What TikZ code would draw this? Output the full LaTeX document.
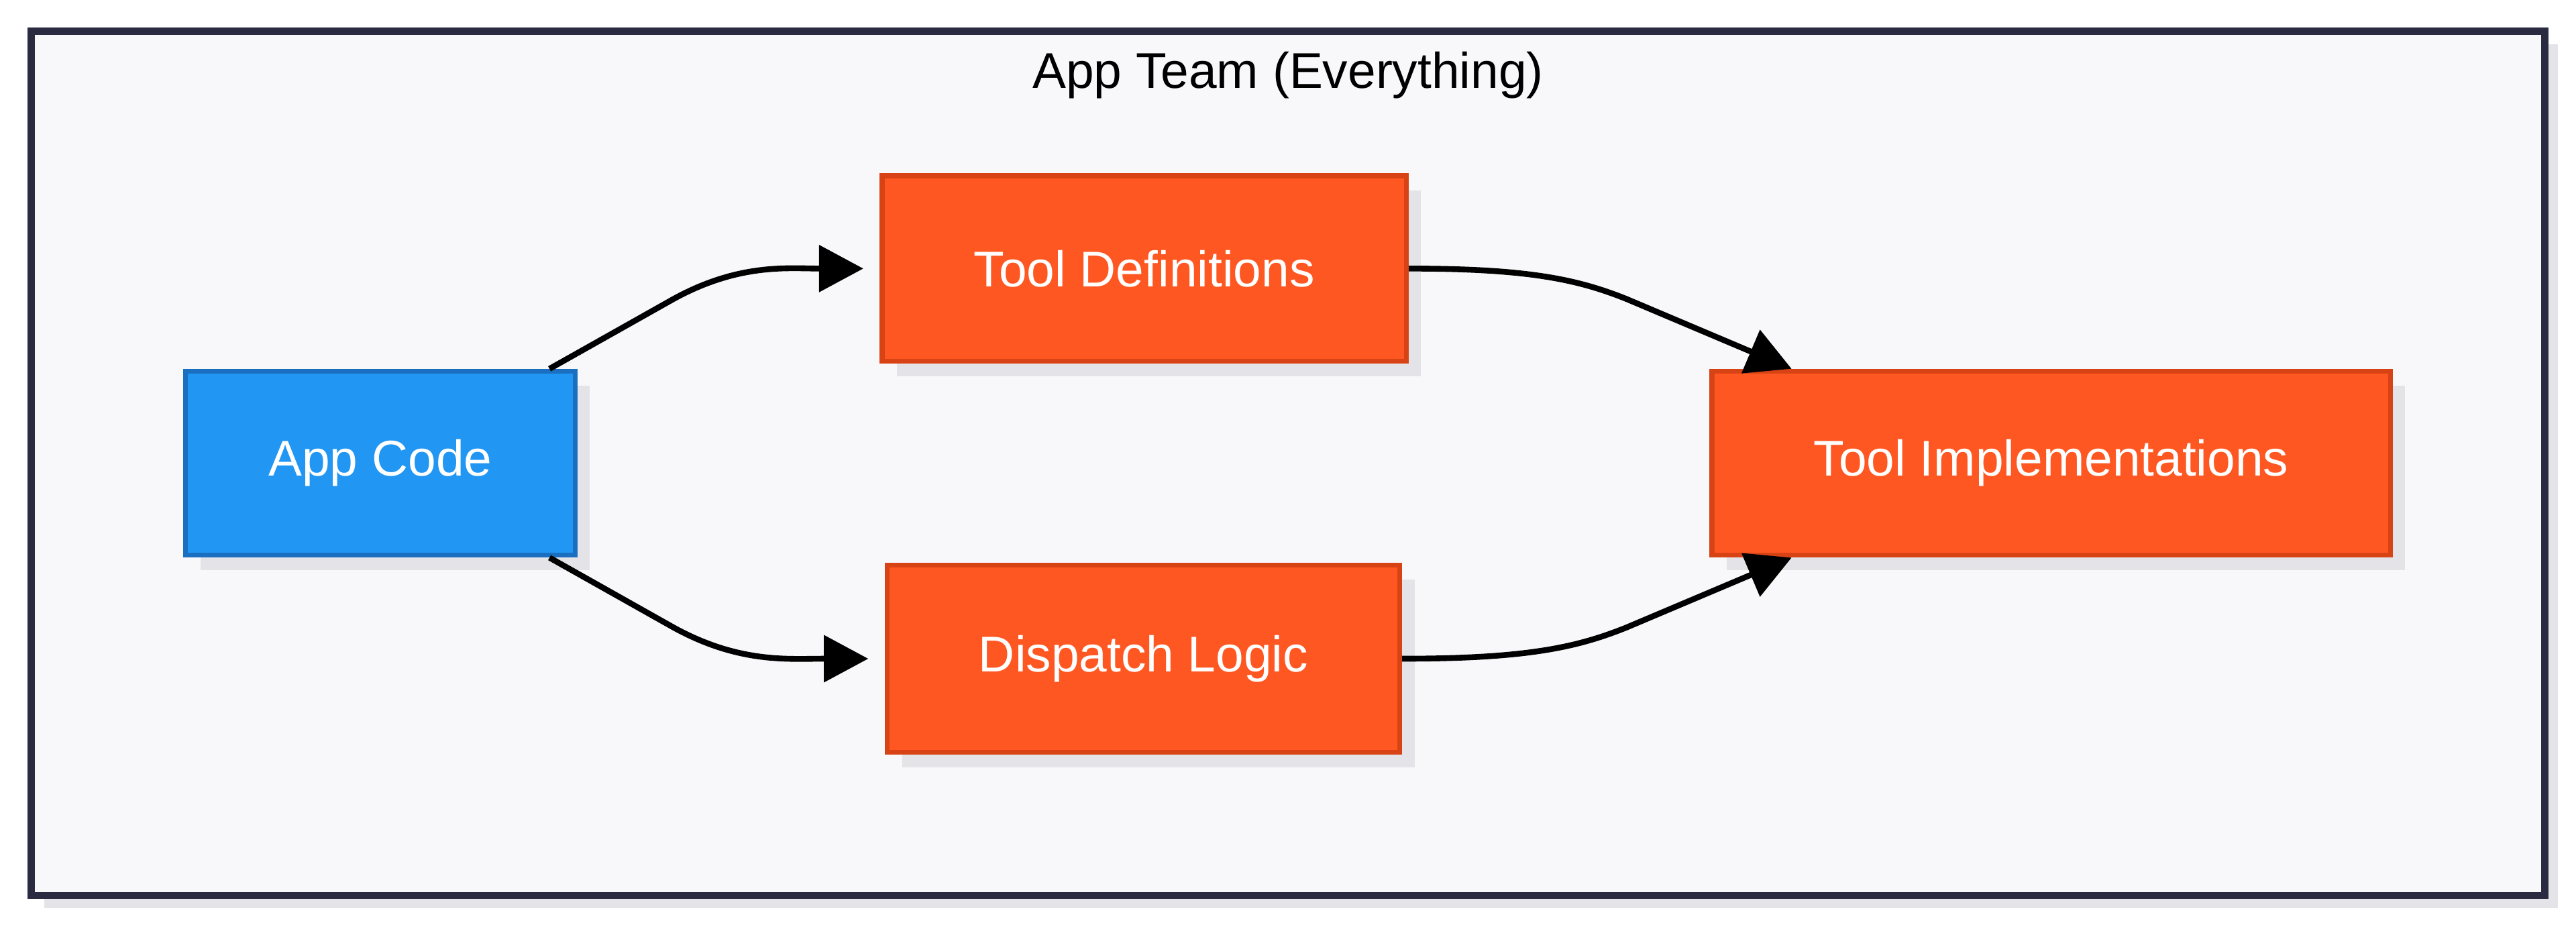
\documentclass[tikz,border=0pt]{standalone}
\usepackage{fontspec}
\setmainfont{Liberation Sans}
\usetikzlibrary{arrows.meta,shadows}
\definecolor{frameline}{HTML}{2A2A40}
\definecolor{framefill}{HTML}{F8F8FA}
\definecolor{shadowgray}{HTML}{E4E4E8}
\definecolor{appblue}{HTML}{2196F3}
\definecolor{appblueline}{HTML}{1A6FC0}
\definecolor{toolorange}{HTML}{FF5722}
\definecolor{toolline}{HTML}{D84315}
\begin{document}
\begin{tikzpicture}[
    box/.style={rectangle, draw, line width=0.85pt, inner sep=0pt, text=white,
        font=\fontsize{8.7}{10}\selectfont,
        drop shadow={shadow xshift=0.09cm, shadow yshift=-0.09cm, fill=shadowgray, opacity=1}},
    appbox/.style={box, fill=appblue, draw=appblueline},
    toolbox/.style={box, fill=toolorange, draw=toolline},
    flow/.style={line width=1pt, -{Triangle[length=0.27cm, width=0.28cm]}}
]
    \useasboundingbox (0,0) rectangle (15.68,-5.64);
    % Team frame
    \fill[shadowgray] (0.27,-0.27) rectangle (15.57,-5.53);
    \draw[frameline, fill=framefill, line width=1.2pt] (0.19,-0.19) rectangle (15.49,-5.45);
    \node[font=\fontsize{8.7}{10}\selectfont] (team) at (7.84,-0.46) {App Team (Everything)};

    % Components
    \node[appbox, minimum width=2.37cm, minimum height=1.12cm] (app) at (2.315,-2.82) {App Code};
    \node[toolbox, minimum width=3.19cm, minimum height=1.13cm] (tdef) at (6.965,-1.635) {Tool Definitions};
    \node[toolbox, minimum width=3.12cm, minimum height=1.14cm] (disp) at (6.96,-4.01) {Dispatch Logic};
    \node[toolbox, minimum width=4.13cm, minimum height=1.12cm] (impl) at (12.485,-2.82) {Tool Implementations};

    % Connectors
    \draw[flow, shorten >=0.1cm] ([xshift=-0.17cm]app.north east) -- (4.1,-1.82)
        .. controls (4.5,-1.6) and (4.8,-1.635) .. (tdef.west);
    \draw[flow, shorten >=0.1cm] ([xshift=-0.17cm]app.south east) -- (4.1,-3.82)
        .. controls (4.5,-4.04) and (4.8,-4.01) .. (disp.west);
    \draw[flow] (tdef.east) .. controls (9.3,-1.635) and (9.6,-1.7) .. (9.9,-1.82)
        -- ([xshift=0.5cm]impl.north west);
    \draw[flow] (disp.east) .. controls (9.3,-4.01) and (9.6,-3.94) .. (9.9,-3.82)
        -- ([xshift=0.5cm]impl.south west);
\end{tikzpicture}
\end{document}
